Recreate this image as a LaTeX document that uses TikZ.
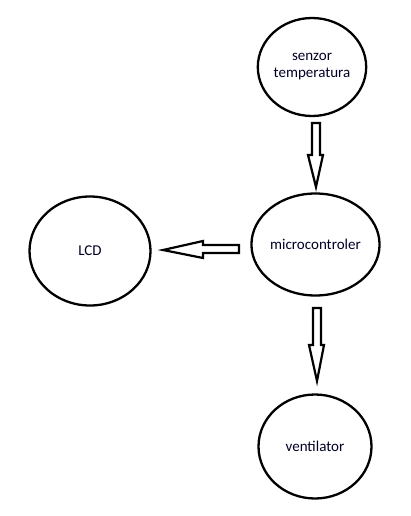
\documentclass[tikz,border=0pt]{standalone}
\usepackage{fontspec}
\setmainfont{Carlito}
\usetikzlibrary{shapes.geometric}
\begin{document}
\begin{tikzpicture}[x=1pt,y=-1pt,
  blob/.style={draw=black, line width=2.3pt, ellipse, inner sep=0pt, align=center,
    font=\fontsize{15}{17}\selectfont, text=black!85!blue},
  blockarrow/.style={draw=black, line width=2.2pt, line join=miter}]
\useasboundingbox (0,0) rectangle (410,516);
\node[blob, minimum width=108pt, minimum height=98pt] (senzor) at (312,67) {senzor\\temperatura};
\node[blob, minimum width=108pt, minimum height=102pt] (micro) at (315.5,244.5) {microcontroler};
\node[blob, minimum width=121pt, minimum height=109pt] (lcd) at (90,251) {LCD};
\node[blob, minimum width=113pt, minimum height=104pt] (vent) at (315,446.5) {ventilator};
% down arrow senzor -> micro
\draw[blockarrow] (312,123) -- (320,123) -- (320,155) -- (323,155) -- (316,187) -- (308,155) -- (312,155) -- cycle;
% left arrow micro -> lcd
\draw[blockarrow] (239,245) -- (239,253) -- (203,253) -- (203,258) -- (163,250) -- (203,241) -- (203,245) -- cycle;
% down arrow micro -> vent
\draw[blockarrow] (313,308) -- (321,308) -- (321,345) -- (324,345) -- (317,381) -- (309,345) -- (313,345) -- cycle;
\end{tikzpicture}
\end{document}
